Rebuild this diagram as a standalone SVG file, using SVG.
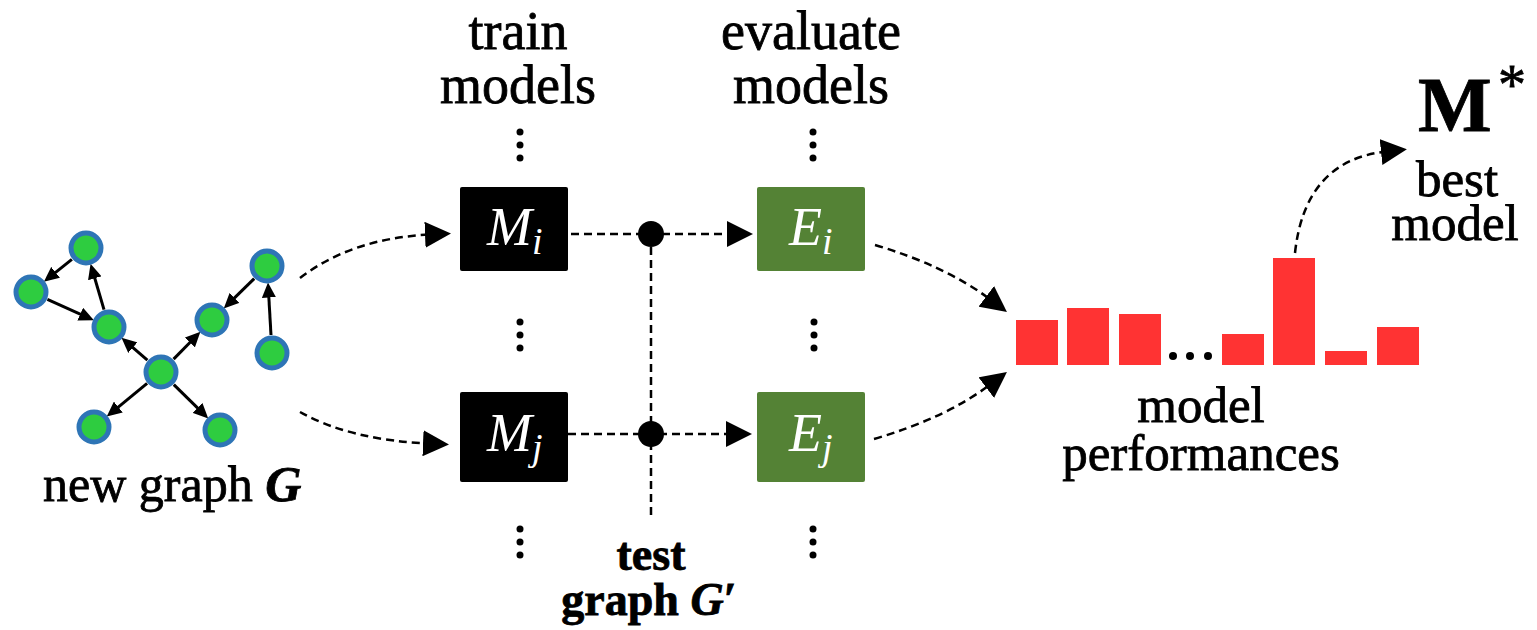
<svg xmlns="http://www.w3.org/2000/svg" width="1537" height="630" viewBox="0 0 1537 630">
  <defs>
    <style>
      .lbl { font-family: "Liberation Serif", "DejaVu Serif", serif; fill: #000; stroke: #000; stroke-width: 0.8; }
      .bold { font-weight: bold; }
      .math { font-family: "Liberation Serif", "DejaVu Serif", serif; font-style: italic; fill: #fff; }
      .node { fill: #2ecc40; stroke: #2e75b6; stroke-width: 5; }
      .edge { stroke: #000; stroke-width: 3; fill: none; marker-end: url(#small); }
      .flow { stroke: #000; stroke-width: 2.5; fill: none; stroke-dasharray: 8 5; }
      .flow.arr { marker-end: url(#big); }
      .bar { fill: #ff3333; }
      .dot { fill: #000; }
    </style>
    <marker id="small" markerUnits="userSpaceOnUse" markerWidth="15" markerHeight="14" refX="6" refY="7" orient="auto">
      <path d="M0,0 L15,7 L0,14 z" fill="#000"/>
    </marker>
    <marker id="big" markerUnits="userSpaceOnUse" markerWidth="26" markerHeight="26" refX="6" refY="13" orient="auto">
      <path d="M0,0 L26,13 L0,26 z" fill="#000"/>
    </marker>
  </defs>
  <rect width="1537" height="630" fill="#fff"/>

  <!-- input graph -->
  <g id="graph-edges">
    <path class="edge" d="M71.9,259.3 L50.9,276.1"/>
    <path class="edge" d="M47.4,299.4 L85.7,316.6"/>
    <path class="edge" d="M104.0,309.7 L93.1,272.5"/>
    <path class="edge" d="M147.4,360.2 L128.3,343.7"/>
    <path class="edge" d="M173.6,359.1 L194.1,338.2"/>
    <path class="edge" d="M254.2,278.6 L230.2,302.1"/>
    <path class="edge" d="M271.0,335.0 L268.5,291.5"/>
    <path class="edge" d="M147.1,383.4 L113.7,410.8"/>
    <path class="edge" d="M173.8,384.6 L201.8,412.1"/>
  </g>
  <g id="graph-nodes">
    <circle class="node" cx="86" cy="248" r="15"/>
    <circle class="node" cx="31" cy="292" r="15"/>
    <circle class="node" cx="109" cy="327" r="15"/>
    <circle class="node" cx="267" cy="266" r="15"/>
    <circle class="node" cx="212" cy="320" r="15"/>
    <circle class="node" cx="272" cy="353" r="15"/>
    <circle class="node" cx="161" cy="372" r="15"/>
    <circle class="node" cx="94" cy="427" r="15"/>
    <circle class="node" cx="220" cy="430" r="15"/>
  </g>
  <g id="graph-label">
    <text class="lbl" x="43" y="501" font-size="50">new graph <tspan class="bold" font-style="italic">G</tspan></text>
  </g>

  <!-- column headings -->
  <g id="train-heading">
    <text class="lbl" x="518" y="49" font-size="54" text-anchor="middle">train</text>
    <text class="lbl" x="518" y="103" font-size="54" text-anchor="middle">models</text>
  </g>
  <g id="eval-heading">
    <text class="lbl" x="811" y="49" font-size="54" text-anchor="middle">evaluate</text>
    <text class="lbl" x="811" y="103" font-size="54" text-anchor="middle">models</text>
  </g>

  <!-- connectors -->
  <g id="connectors">
    <path class="flow arr" d="M300,278 Q352,238 431,234.5"/>
    <path class="flow arr" d="M300,412 Q350,440 429,443.5"/>
    <path class="flow arr" d="M571,234 H733"/>
    <path class="flow arr" d="M568,434 H732"/>
    <path class="flow" d="M651,234 V515"/>
    <path class="flow arr" d="M875,245 Q946,266 991,300"/>
    <path class="flow arr" d="M874,439 Q946,418 991,384"/>
    <path class="flow arr" d="M1295,253 Q1305,160 1387,151.4"/>
    <circle class="dot" cx="651" cy="234" r="13"/>
    <circle class="dot" cx="651" cy="434" r="13"/>
  </g>

  <!-- trained models -->
  <g id="model-i">
    <rect x="460" y="187" width="108" height="84" rx="2" fill="#000"/>
    <text class="math" x="487" y="245" font-size="54">M<tspan font-size="38" dy="9">i</tspan></text>
  </g>
  <g id="model-j">
    <rect x="460" y="392" width="108" height="90" rx="2" fill="#000"/>
    <text class="math" x="487" y="451" font-size="54">M<tspan font-size="38" dy="9">j</tspan></text>
  </g>

  <!-- evaluations -->
  <g id="eval-i">
    <rect x="757" y="187" width="108" height="84" rx="2" fill="#548235"/>
    <text class="math" x="789" y="245" font-size="54">E<tspan font-size="38" dy="9">i</tspan></text>
  </g>
  <g id="eval-j">
    <rect x="757" y="392" width="108" height="90" rx="2" fill="#548235"/>
    <text class="math" x="789" y="451" font-size="54">E<tspan font-size="38" dy="9">j</tspan></text>
  </g>

  <!-- vertical ellipses -->
  <g id="ellipses">
    <circle class="dot" cx="520" cy="132" r="3.5"/>
    <circle class="dot" cx="520" cy="145" r="3.5"/>
    <circle class="dot" cx="520" cy="158" r="3.5"/>
    <circle class="dot" cx="813" cy="132" r="3.5"/>
    <circle class="dot" cx="813" cy="145" r="3.5"/>
    <circle class="dot" cx="813" cy="158" r="3.5"/>
    <circle class="dot" cx="520" cy="322" r="3.5"/>
    <circle class="dot" cx="520" cy="335" r="3.5"/>
    <circle class="dot" cx="520" cy="348" r="3.5"/>
    <circle class="dot" cx="814" cy="322" r="3.5"/>
    <circle class="dot" cx="814" cy="335" r="3.5"/>
    <circle class="dot" cx="814" cy="348" r="3.5"/>
    <circle class="dot" cx="520" cy="529" r="3.5"/>
    <circle class="dot" cx="520" cy="542" r="3.5"/>
    <circle class="dot" cx="520" cy="555" r="3.5"/>
    <circle class="dot" cx="813" cy="529" r="3.5"/>
    <circle class="dot" cx="813" cy="542" r="3.5"/>
    <circle class="dot" cx="813" cy="555" r="3.5"/>
  </g>

  <!-- test graph -->
  <g id="test-graph">
    <text class="lbl bold" x="651" y="570" font-size="46" text-anchor="middle">test</text>
    <text class="lbl bold" x="649" y="615" font-size="46" text-anchor="middle">graph <tspan font-style="italic">G</tspan>′</text>
  </g>

  <!-- performance bar chart -->
  <g id="performances">
    <rect class="bar" x="1016" y="320" width="42" height="45"/>
    <rect class="bar" x="1067" y="308" width="42" height="57"/>
    <rect class="bar" x="1119" y="314" width="42" height="51"/>
    <circle class="dot" cx="1173" cy="356" r="4"/>
    <circle class="dot" cx="1190" cy="356" r="4"/>
    <circle class="dot" cx="1208" cy="356" r="4"/>
    <rect class="bar" x="1222" y="334" width="42" height="31"/>
    <rect class="bar" x="1273" y="258" width="42" height="107"/>
    <rect class="bar" x="1325" y="351" width="42" height="14"/>
    <rect class="bar" x="1377" y="327" width="42" height="38"/>
    <text class="lbl" x="1201" y="422" font-size="51" text-anchor="middle">model</text>
    <text class="lbl" x="1201" y="470" font-size="51" text-anchor="middle">performances</text>
  </g>

  <!-- selected model -->
  <g id="best-model">
    <text class="lbl bold" x="1418" y="131" font-size="78">M</text>
    <text class="lbl" x="1498" y="104" font-size="56">*</text>
    <text class="lbl" x="1457" y="196" font-size="51" text-anchor="middle">best</text>
    <text class="lbl" x="1455" y="240" font-size="51" text-anchor="middle">model</text>
  </g>
</svg>
